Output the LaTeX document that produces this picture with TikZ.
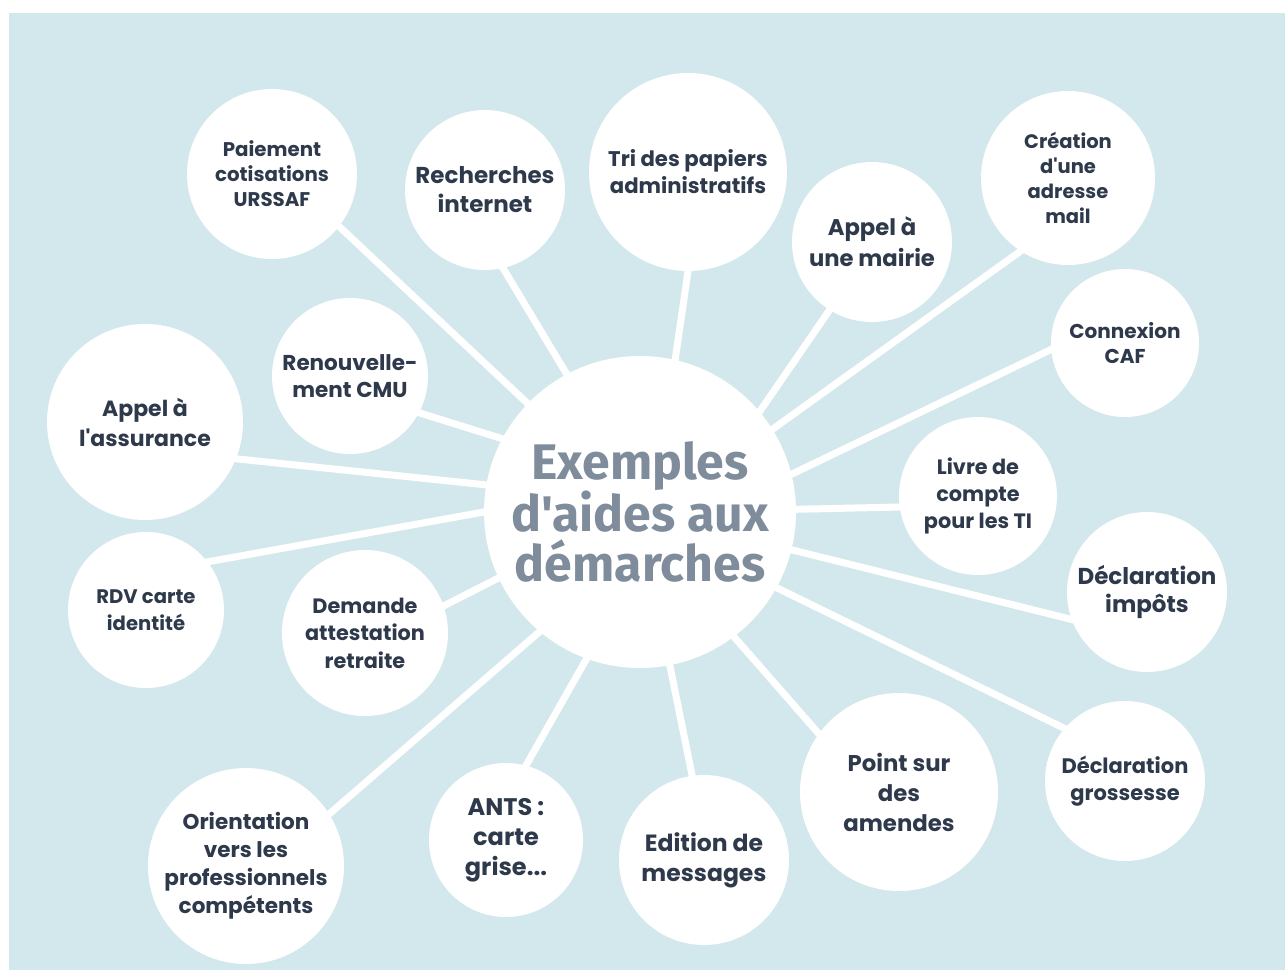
\documentclass[tikz,border=0pt]{standalone}
\usepackage{fontspec}
\setmainfont{Poppins}[Ligatures=TeXOff]
\newfontfamily\titlefont{Fira Sans}[Ligatures=TeXOff]
\definecolor{bgblue}{HTML}{D3E8EC}
\definecolor{txt}{HTML}{2E3A4B}
\definecolor{ttl}{HTML}{7F8C9C}
\pgfdeclarelayer{back}
\pgfsetlayers{back,main}
\begin{document}
\begin{tikzpicture}[x=1pt,y=-1pt,
  bubble/.style={circle, fill=white, inner sep=0pt, align=center, text=txt},
  fs/.style 2 args={font=\fontsize{#1}{#2}\selectfont\bfseries},
  spoke/.style={draw=white, line width=7pt, shorten <=-6pt, shorten >=-6pt}]
\useasboundingbox (0,0) rectangle (1285,970);
\begin{pgfonlayer}{back}
\fill[white] (0,0) rectangle (1285,970);
\fill[bgblue] (9,13) rectangle (1285,970);
\end{pgfonlayer}

\node[bubble, minimum size=312pt, text=ttl, font=\titlefont\fontsize{50}{50}\selectfont\bfseries] (c) at (640,512) {Exemples\\d'aides aux\\démarches};

\node[bubble, minimum size=170pt, fs={19.8}{25}] (pay) at (272,174) {Paiement\\cotisations\\URSSAF};
\node[bubble, minimum size=160pt, fs={23}{29}] (rech) at (485,190) {Recherches\\internet};
\node[bubble, minimum size=198pt, fs={21.2}{27}] (tri) at (688,172) {Tri des papiers\\administratifs};
\node[bubble, minimum size=160pt, fs={22.7}{31}] (mairie) at (872,242) {Appel à\\une mairie};
\node[bubble, minimum size=174pt, fs={19.5}{25}] (crea) at (1068,178) {Création\\d'une\\adresse\\mail};
\node[bubble, minimum size=148pt, fs={20}{25}] (caf) at (1125,343) {Connexion\\CAF};
\node[bubble, minimum size=158pt, fs={20.8}{27}] (livre) at (978,496) {Livre de\\compte\\pour les TI};
\node[bubble, minimum size=160pt, fs={23}{28}] (impots) at (1147,592) {Déclaration\\impôts};
\node[bubble, minimum size=160pt, fs={21}{27}] (gross) at (1125,781) {Déclaration\\grossesse};
\node[bubble, minimum size=198pt, fs={22.8}{30}] (point) at (899,792) {Point sur\\des\\amendes};
\node[bubble, minimum size=170pt, fs={23.5}{30}] (edit) at (704,860) {Edition de\\messages};
\node[bubble, minimum size=154pt, fs={24}{30}] (ants) at (506,840) {ANTS :\\carte\\grise...};
\node[bubble, minimum size=196pt, fs={21.5}{28}] (orient) at (246,866) {Orientation\\vers les\\professionnels\\compétents};
\node[bubble, minimum size=166pt, fs={20.8}{27.5}] (dem) at (365,633) {Demande\\attestation\\retraite};
\node[bubble, minimum size=156pt, fs={19.6}{27}] (rdv) at (146,610) {RDV carte\\identité};
\node[bubble, minimum size=196pt, fs={22}{30}] (assur) at (145,422) {Appel à\\l'assurance};
\node[bubble, minimum size=156pt, fs={21.5}{27}] (renouv) at (350,376) {Renouvelle-\\ment CMU};

\begin{pgfonlayer}{back}
\draw[spoke] (c.136) -- (pay.-38);
\draw[spoke] (c.118) -- (rech.-77);
\draw[spoke] (c.77) -- (tri.-90);
\draw[spoke] (c.40) -- (mairie.-122);
\draw[spoke] (c.32) -- (crea.-123);
\draw[spoke] (c.14.5) -- (caf.185);
\draw[spoke] (c.1) -- (livre.188);
\draw[spoke] (c.-14) -- (impots.200);
\draw[spoke] (c.-29.5) -- (gross.139);
\draw[spoke] (c.-53) -- (point.144);
\draw[spoke] (c.-79) -- (edit.98);
\draw[spoke] (c.-110) -- (ants.75);
\draw[spoke] (c.-130) -- (orient.32);
\draw[spoke] (c.-155) -- (dem.19);
\draw[spoke] (c.180) -- (rdv.38);
\draw[spoke] (c.170) -- (assur.-22);
\draw[spoke] (c.152) -- (renouv.-28);
\end{pgfonlayer}
\end{tikzpicture}
\end{document}
